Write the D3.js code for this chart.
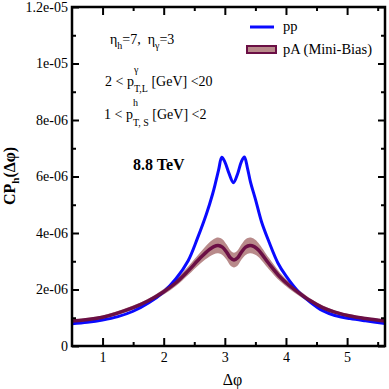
<!DOCTYPE html>
<html><head><meta charset="utf-8">
<script src="https://cdn.jsdelivr.net/npm/d3@7"></script>
<style>html,body{margin:0;padding:0;background:#fff;}svg{display:block;}</style>
</head><body>
<script>
// ---- data ----
const xTicks = [1, 2, 3, 4, 5];
const xMinorTicks = [1.5, 2.5, 3.5, 4.5, 5.5];
const yTicks = [0, 2e-6, 4e-6, 6e-6, 8e-6, 1e-5, 1.2e-5];
const yTickLabels = ["0", "2e-06", "4e-06", "6e-06", "8e-06", "1e-05", "1.2e-05"];
const yMinorTicks = [1e-6, 3e-6, 5e-6, 7e-6, 9e-6, 1.1e-5];

const ppDphi = [0.5,0.75,1.0,1.25,1.5,1.75,2.0,2.2,2.4,2.55,2.7,2.8,2.85,2.9,2.95,3.0,3.07,3.14,3.21,3.27,3.32,3.37,3.42,3.5,3.6,3.72,3.87,4.0,4.2,4.4,4.6,4.8,5.05,5.3,5.62];
const ppVal  = [0.79e-6,0.84e-6,0.92e-6,1.04e-6,1.23e-6,1.52e-6,1.92e-6,2.38e-6,3.02e-6,3.8e-6,4.68e-6,5.38e-6,5.8e-6,6.25e-6,6.68e-6,6.52e-6,6.1e-6,5.78e-6,6.1e-6,6.52e-6,6.69e-6,6.3e-6,5.8e-6,5.2e-6,4.4e-6,3.7e-6,2.93e-6,2.48e-6,1.93e-6,1.55e-6,1.25e-6,1.08e-6,0.97e-6,0.89e-6,0.80e-6];

const pAdphi = [0.5,1.0,1.5,1.75,2.0,2.2,2.4,2.6,2.75,2.82,2.89,2.96,3.03,3.09,3.15,3.21,3.27,3.34,3.41,3.48,3.55,3.72,3.9,4.05,4.2,4.4,4.6,4.8,5.05,5.3,5.62];
const pAval  = [0.885e-6,1.02e-6,1.36e-6,1.6e-6,1.92e-6,2.24e-6,2.66e-6,3.12e-6,3.42e-6,3.52e-6,3.56e-6,3.5e-6,3.32e-6,3.12e-6,3.04e-6,3.12e-6,3.32e-6,3.5e-6,3.56e-6,3.52e-6,3.4e-6,2.92e-6,2.45e-6,2.15e-6,1.9e-6,1.6e-6,1.36e-6,1.2e-6,1.06e-6,0.97e-6,0.885e-6];
const pAerr  = [0.05e-6,0.06e-6,0.07e-6,0.08e-6,0.1e-6,0.12e-6,0.15e-6,0.2e-6,0.25e-6,0.27e-6,0.28e-6,0.28e-6,0.27e-6,0.27e-6,0.26e-6,0.27e-6,0.27e-6,0.28e-6,0.28e-6,0.27e-6,0.25e-6,0.2e-6,0.15e-6,0.12e-6,0.1e-6,0.08e-6,0.07e-6,0.06e-6,0.06e-6,0.05e-6,0.05e-6];

const seriesNames = ["pp", "pA (Mini-Bias)"];

// ---- layout ----
const W = 389, H = 389;
const m = {left: 72, right: 385, top: 7, bottom: 346};
const FONT = "'Liberation Serif','Times New Roman',serif";
const ppColor = "#0a0aff", pAcolor = "#6b0f45", bandColor = "#b88a8a";
const curve = d3.curveCatmullRom.alpha(0.5);

const svg = d3.select("body").append("svg").attr("width", W).attr("height", H)
  .style("font-family", FONT);

const x = d3.scaleLinear().domain([0.5, 5.62]).range([m.left, m.right]);
const y = d3.scaleLinear().domain([0, 1.2e-5]).range([m.bottom, m.top]);

svg.append("clipPath").attr("id", "clip").append("rect")
  .attr("x", m.left).attr("y", m.top).attr("width", m.right - m.left).attr("height", m.bottom - m.top);

const plot = svg.append("g").attr("clip-path", "url(#clip)");

const ppData = ppDphi.map((d, i) => ({x: d, y: ppVal[i]}));
const pAData = pAdphi.map((d, i) => ({x: d, y: pAval[i], e: pAerr[i]}));

plot.append("path").datum(pAData)
  .attr("fill", bandColor)
  .attr("d", d3.area().curve(curve)
    .x(d => x(d.x)).y0(d => y(d.y - d.e)).y1(d => y(d.y + d.e)));

plot.append("path").datum(ppData)
  .attr("fill", "none").attr("stroke", ppColor).attr("stroke-width", 3)
  .attr("d", d3.line().curve(curve).x(d => x(d.x)).y(d => y(d.y)));

plot.append("path").datum(pAData)
  .attr("fill", "none").attr("stroke", pAcolor).attr("stroke-width", 3.5)
  .attr("d", d3.line().curve(curve).x(d => x(d.x)).y(d => y(d.y)));

// ---- axes ----
function styleAxis(g) {
  g.select(".domain").remove();
  g.selectAll(".tick line").attr("stroke", "#000").attr("stroke-width", 2);
  g.selectAll(".tick text").attr("font-family", FONT).attr("font-size", 14).attr("fill", "#000");
}
svg.append("g").attr("transform", `translate(0,${m.bottom})`)
  .call(d3.axisBottom(x).tickValues(xTicks).tickFormat(d3.format("d")).tickSizeInner(-8).tickPadding(6))
  .call(styleAxis);
svg.append("g").attr("transform", `translate(0,${m.bottom})`)
  .call(d3.axisBottom(x).tickValues(xMinorTicks).tickFormat("").tickSizeInner(-4))
  .call(styleAxis);
svg.append("g").attr("transform", `translate(0,${m.top})`)
  .call(d3.axisTop(x).tickValues(xTicks).tickFormat("").tickSizeInner(-8))
  .call(styleAxis);
svg.append("g").attr("transform", `translate(0,${m.top})`)
  .call(d3.axisTop(x).tickValues(xMinorTicks).tickFormat("").tickSizeInner(-4))
  .call(styleAxis);
svg.append("g").attr("transform", `translate(${m.left},0)`)
  .call(d3.axisLeft(y).tickValues(yTicks).tickFormat((d, i) => yTickLabels[i]).tickSizeInner(-7).tickPadding(4))
  .call(styleAxis);
svg.append("g").attr("transform", `translate(${m.left},0)`)
  .call(d3.axisLeft(y).tickValues(yMinorTicks).tickFormat("").tickSizeInner(-4))
  .call(styleAxis);
svg.append("g").attr("transform", `translate(${m.right},0)`)
  .call(d3.axisRight(y).tickValues(yTicks).tickFormat("").tickSizeInner(-7))
  .call(styleAxis);
svg.append("g").attr("transform", `translate(${m.right},0)`)
  .call(d3.axisRight(y).tickValues(yMinorTicks).tickFormat("").tickSizeInner(-4))
  .call(styleAxis);

svg.append("rect").attr("x", m.left).attr("y", m.top)
  .attr("width", m.right - m.left).attr("height", m.bottom - m.top)
  .attr("fill", "none").attr("stroke", "#000").attr("stroke-width", 2.5);

// ---- axis labels ----
svg.append("text").attr("x", (x(0.5) + x(5.62)) / 2 + 4).attr("y", 385)
  .attr("text-anchor", "middle").attr("font-size", 16).text("Δφ");

const yl = svg.append("text").attr("transform", "translate(15,176) rotate(-90)")
  .attr("text-anchor", "middle").attr("font-size", 16).attr("font-weight", "bold");
yl.append("tspan").text("CP");
yl.append("tspan").attr("font-size", 11).attr("dy", 4).text("h");
yl.append("tspan").attr("dy", -4).text("(Δφ)");

// ---- rich text helper ----
function rich(x0, y0, parts, size) {
  let cx = x0, prevStart = x0;
  parts.forEach(p => {
    const fs = p.size || size;
    const startX = p.stack ? prevStart : cx;
    const t = svg.append("text").attr("x", startX).attr("y", y0 + (p.dy || 0))
      .attr("font-size", fs).attr("font-weight", p.bold ? "bold" : null)
      .style("white-space", "pre").text(p.t);
    const w = t.node().getComputedTextLength();
    if (p.stack) cx = Math.max(cx, startX + w);
    else cx = startX + w;
    prevStart = startX;
  });
}
rich(110, 44, [
  {t: "η"}, {t: "h", size: 10, dy: 5}, {t: "=7,  η"}, {t: "γ", size: 10, dy: 5}, {t: "=3"}
], 14);
rich(105, 86, [
  {t: "2 < p"}, {t: "γ", size: 10, dy: -13}, {t: "T,L", size: 10, dy: 6, stack: true}, {t: " [GeV] <20"}
], 14);
rich(104, 119, [
  {t: "1 < p"}, {t: "h", size: 10, dy: -13}, {t: "T, S", size: 10, dy: 7, stack: true}, {t: " [GeV] <2"}
], 14);
svg.append("text").attr("x", 133).attr("y", 170).attr("font-size", 16).attr("font-weight", "bold").text("8.8 TeV");

// ---- legend ----
svg.append("line").attr("x1", 250).attr("x2", 274).attr("y1", 27).attr("y2", 27)
  .attr("stroke", ppColor).attr("stroke-width", 3);
svg.append("text").attr("x", 283).attr("y", 31).attr("font-size", 14.5).text(seriesNames[0]);
svg.append("rect").attr("x", 247).attr("y", 46).attr("width", 29).attr("height", 7)
  .attr("fill", bandColor).attr("stroke", pAcolor).attr("stroke-width", 2);
svg.append("text").attr("x", 283).attr("y", 54).attr("font-size", 14.5).text(seriesNames[1]);
</script>
</body></html>
